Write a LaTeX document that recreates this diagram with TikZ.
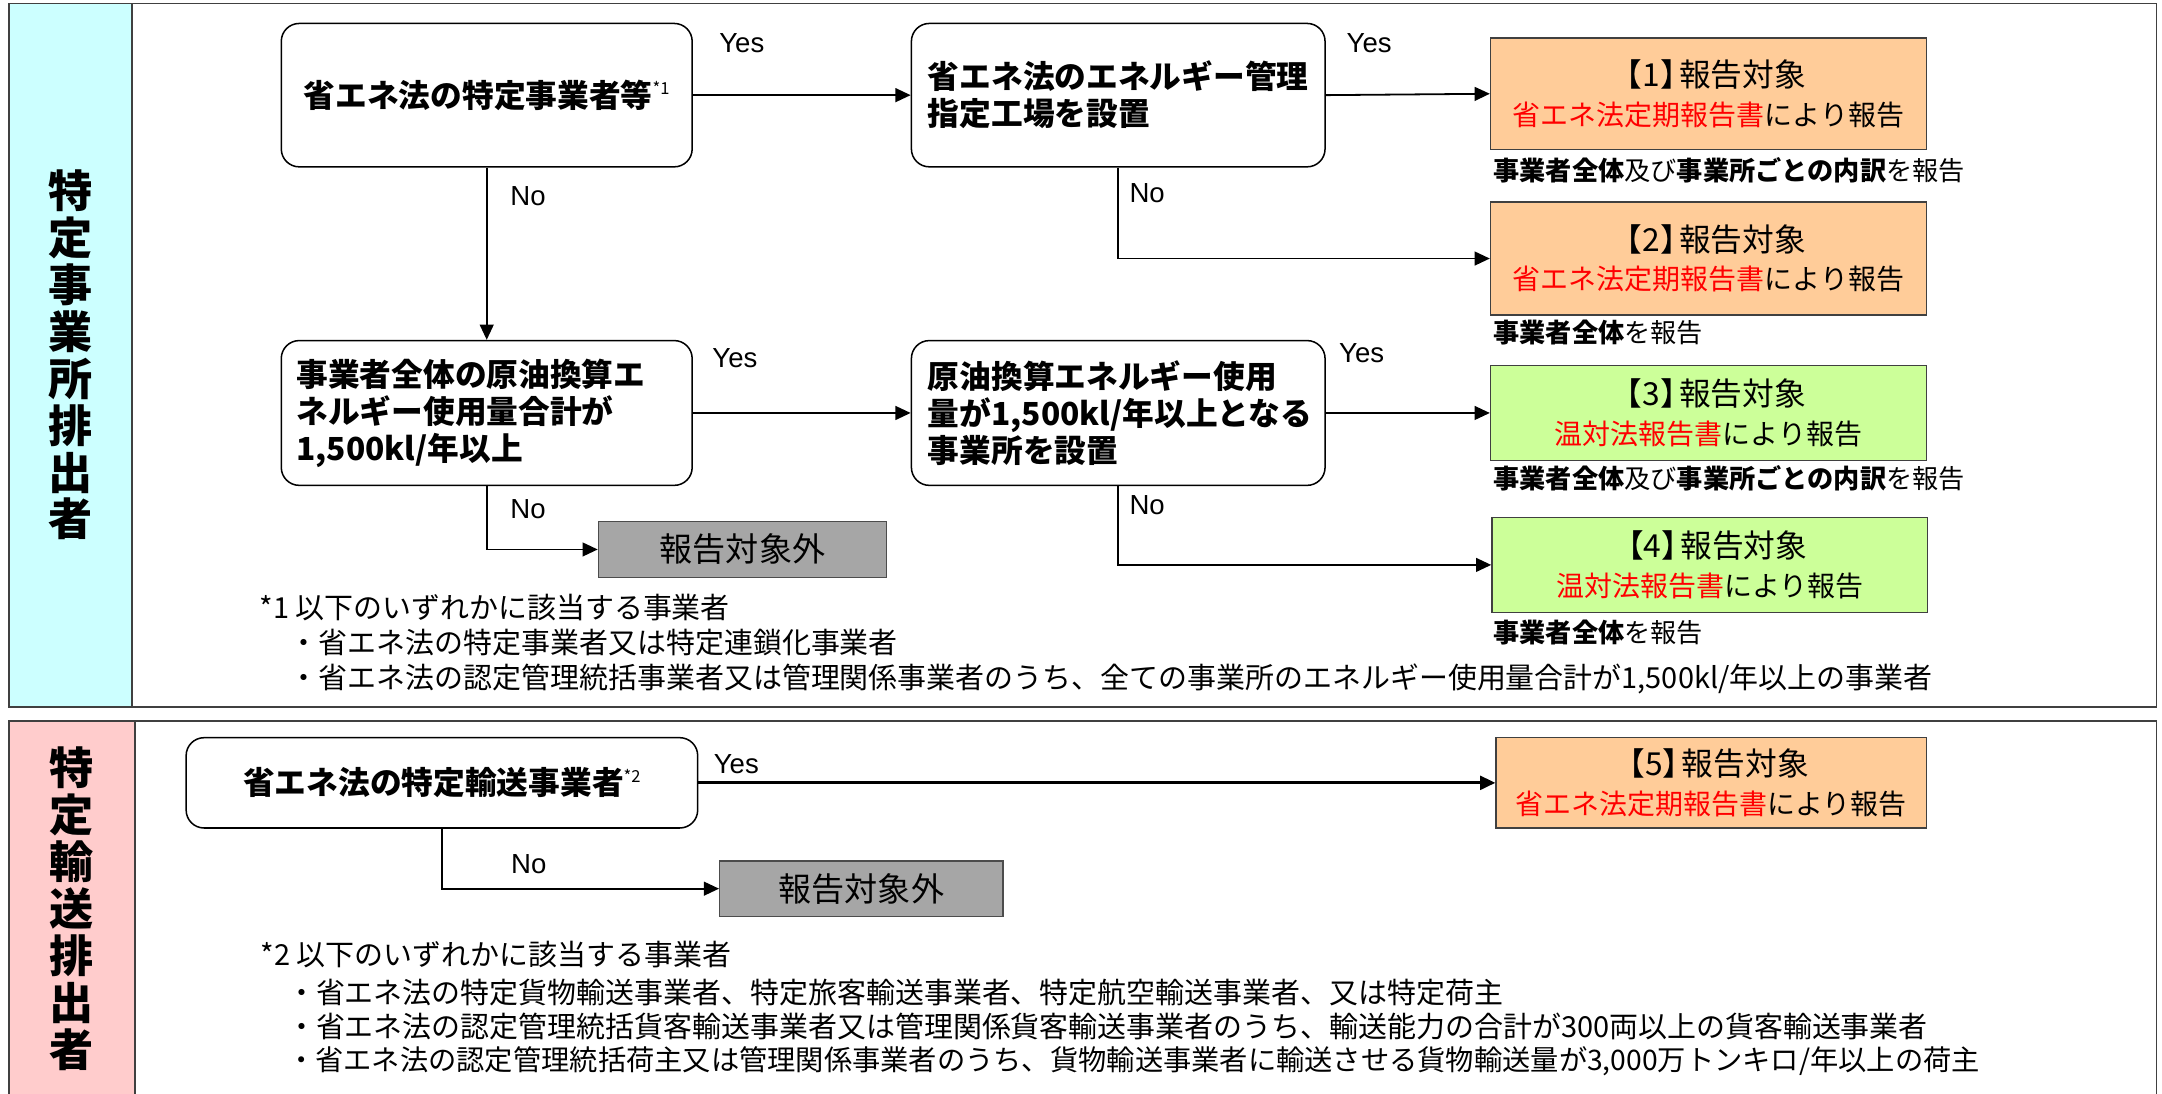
\documentclass[tikz,border=0pt]{standalone}
\usepackage{fontspec}
\setmainfont{Noto Sans CJK JP}
\newfontfamily\arialf{Liberation Sans}
\usetikzlibrary{arrows.meta}
\definecolor{cyanside}{HTML}{CCFFFF}
\definecolor{pinkside}{HTML}{FFCCCC}
\definecolor{orangebox}{HTML}{FFCC99}
\definecolor{greenbox}{HTML}{CCFF99}
\definecolor{graybox}{HTML}{A6A6A6}
\definecolor{redtxt}{HTML}{FF0000}
\newcommand{\fsz}[2]{\fontsize{#1}{#2}\selectfont}
\newcommand{\restitle}[1]{{\fsz{23}{27.8}【#1】\kern-0.4em 報告対象}}
\begin{document}
\begin{tikzpicture}[x=1pt,y=-1pt,
  panel/.style={draw=black!75, line width=1.3pt},
  decbox/.style={draw=black, line width=1.1pt, rounded corners=13pt, fill=white, inner sep=0pt, font=\bfseries\fsz{23}{26.8}},
  resbox/.style={draw=black!75, line width=1pt, inner sep=0pt, minimum width=316pt, align=center, font=\fsz{20.3}{27.8}},
  outbox/.style={draw=black!70, line width=1pt, fill=graybox, inner sep=0pt, font=\fsz{24}{24}},
  yn/.style={font=\arialf\fsz{20}{20}, inner sep=0pt},
  fnote/.style={anchor=west, inner sep=0pt, font=\fsz{21}{21}},
  subnote/.style={anchor=west, inner sep=0pt, font=\fsz{19}{19}},
  sidetxt/.style={inner sep=0pt, align=center, font=\bfseries\fsz{32}{34}},
  conn/.style={line width=1.3pt, -{Triangle[length=11pt,width=10pt]}},
]
\useasboundingbox (0,0) rectangle (1568,793);
\clip (0,0) rectangle (1568,793);
\fill[white] (0,0) rectangle (1568,793);
% panels
\draw[panel] (6.5,2.5) rectangle (1564,512.5);
\filldraw[panel, fill=cyanside] (6.5,2.5) rectangle (95.5,512.5);
\draw[panel] (6.5,523) rectangle (1564,800);
\filldraw[panel, fill=pinkside] (6.5,523) rectangle (98,800);
\node[sidetxt] (side1) at (51,257.5) {特\\定\\事\\業\\所\\排\\出\\者};
\node[sidetxt] (side2) at (52,659) {特\\定\\輸\\送\\排\\出\\者};
% decision boxes
\node[decbox, minimum width=298pt, minimum height=104pt] (a) at (353,69)
  {省エネ法の特定事業者等\raisebox{9pt}{\mdseries\fsz{12}{12}*1}};
\node[decbox, minimum height=104pt, text width=276pt, inner xsep=12pt, align=left] (b) at (811,69)
  {省エネ法のエネルギー管理\\指定工場を設置};
\node[decbox, minimum height=105pt, text width=276pt, inner xsep=11pt, align=left] (c) at (353,299.5)
  {事業者全体の原油換算エ\\ネルギー使用量合計が\\1,500kl/年以上};
\node[decbox, minimum height=105pt, text width=276pt, inner xsep=12pt, align=left] (d) at (811,299.5)
  {原油換算エネルギー使用\\量が1,500kl/年以上となる\\事業所を設置};
\node[decbox, minimum width=371pt, minimum height=65.5pt] (e) at (320.5,567.75)
  {省エネ法の特定輸送事業者\raisebox{9pt}{\mdseries\fsz{12}{12}*2}};
% result boxes
\node[resbox, fill=orangebox, minimum height=81pt] (r1) at (1239,68)
  {\restitle{1}\\\textcolor{redtxt}{省エネ法定期報告書}により報告};
\node[resbox, fill=orangebox, minimum height=82pt] (r2) at (1239,187.5)
  {\restitle{2}\\\textcolor{redtxt}{省エネ法定期報告書}により報告};
\node[resbox, fill=greenbox, minimum height=69pt] (r3) at (1239,299.5)
  {\restitle{3}\\\textcolor{redtxt}{温対法報告書}により報告};
\node[resbox, fill=greenbox, minimum height=69pt] (r4) at (1240,409.7)
  {\restitle{4}\\\textcolor{redtxt}{温対法報告書}により報告};
\node[resbox, fill=orangebox, minimum width=312pt, minimum height=65.5pt] (r5) at (1241,567.75)
  {\restitle{5}\\\textcolor{redtxt}{省エネ法定期報告書}により報告};
\node[subnote] (s1) at (1083,123.5) {\textbf{事業者全体}及び\textbf{事業所ごとの内訳}を報告};
\node[subnote] (s2) at (1083,241) {\textbf{事業者全体}を報告};
\node[subnote] (s3) at (1083,346.6) {\textbf{事業者全体}及び\textbf{事業所ごとの内訳}を報告};
\node[subnote] (s4) at (1083,459) {\textbf{事業者全体}を報告};
% out-of-scope boxes
\node[outbox, minimum width=209pt, minimum height=41pt] (g1) at (538.5,398.5) {報告対象外};
\node[outbox, minimum width=205.5pt, minimum height=40pt] (g2) at (624.75,644.5) {報告対象外};
% connectors
\draw[conn] (a.east) -- (b.west);
\draw[conn] (b.east) -- (r1.west);
\draw[conn] (a.south) -- (c.north);
\draw[conn] (b.south) |- (r2.west);
\draw[conn] (c.east) -- (d.west);
\draw[conn] (d.east) -- (r3.west);
\draw[conn] (c.south) |- (g1.west);
\draw[conn] (d.south) |- (r4.west);
\draw[conn, line width=2pt] (e.east) -- (r5.west);
\draw[conn] (e.south) |- (g2.west);
% yes / no labels
\node[yn] (y1) at (538,31) {Yes};
\node[yn] (y2) at (993,31) {Yes};
\node[yn] (n1) at (383,142) {No};
\node[yn] (n2) at (832,140) {No};
\node[yn] (y3) at (533,260) {Yes};
\node[yn] (y4) at (987.5,256) {Yes};
\node[yn] (n3) at (383,369) {No};
\node[yn] (n4) at (832,366) {No};
\node[yn] (y5) at (534,554) {Yes};
\node[yn] (n5) at (383.5,626.5) {No};
% footnotes
\node[fnote] (f1) at (188,440.6) {*1 以下のいずれかに該当する事業者};
\node[fnote] (f1a) at (210,466) {・省エネ法の特定事業者又は特定連鎖化事業者};
\node[fnote] (f1b) at (210,492.5) {・省エネ法の認定管理統括事業者又は管理関係事業者のうち、全ての事業所のエネルギー使用量合計が1,500kl/年以上の事業者};
\node[fnote] (f2) at (189,692) {*2 以下のいずれかに該当する事業者};
\node[fnote] (f2a) at (208,719.5) {・省エネ法の特定貨物輸送事業者、特定旅客輸送事業者、特定航空輸送事業者、又は特定荷主};
\node[fnote] (f2b) at (208,744.5) {・省エネ法の認定管理統括貨客輸送事業者又は管理関係貨客輸送事業者のうち、輸送能力の合計が300両以上の貨客輸送事業者};
\node[fnote, font=\fsz{20.5}{20.5}] (f2c) at (208,770) {・省エネ法の認定管理統括荷主又は管理関係事業者のうち、貨物輸送事業者に輸送させる貨物輸送量が3,000万トンキロ/年以上の荷主};
\end{tikzpicture}
\end{document}
